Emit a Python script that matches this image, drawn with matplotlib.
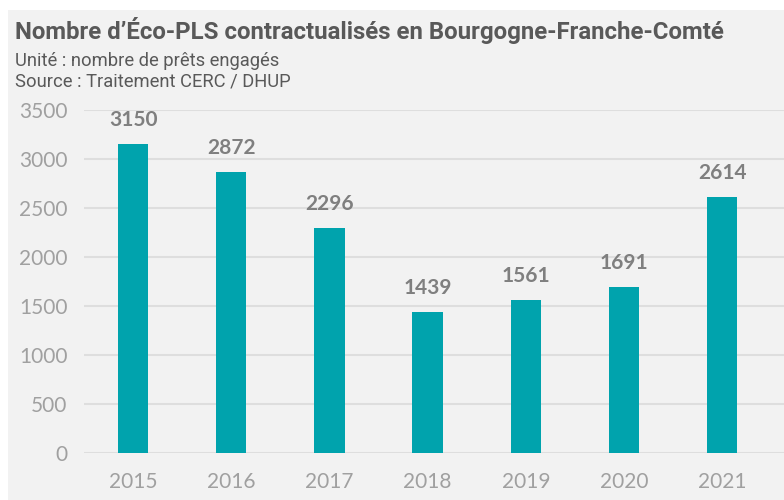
import matplotlib
matplotlib.use("Agg")
import matplotlib.pyplot as plt
from matplotlib.patches import Rectangle

# ── Data ──────────────────────────────────────────────────────────────────────
YEARS  = ["2015", "2016", "2017", "2018", "2019", "2020", "2021"]
VALUES = [3150, 2872, 2296, 1439, 1561, 1691, 2614]
YTICKS = [0, 500, 1000, 1500, 2000, 2500, 3000, 3500]

BG       = "#F2F2F2"
BAR      = "#00A3AD"
TITLE_C  = "#595959"
TICK_C   = "#A0A0A0"
LABEL_C  = "#7F7F7F"

fig = plt.figure(figsize=(7.84, 5.0), dpi=100, facecolor="white")
fig.patches.append(Rectangle((8 / 784, 0), 1, 1 - 10 / 500,
                             transform=fig.transFigure, facecolor=BG,
                             edgecolor="none", zorder=-10))

ax = fig.add_axes([84 / 784, 47 / 500, 1 - 84 / 784, 343 / 500])
ax.set_facecolor(BG)
ax.patch.set_alpha(0)

x = list(range(len(YEARS)))
ax.bar(x, VALUES, width=0.31, color=BAR, zorder=3)
ax.set_xlim(-0.5, 6.63)
ax.set_ylim(0, 3500)
ax.set_yticks(YTICKS)
ax.set_xticks(x, YEARS)
ax.grid(axis="y", color="#DEDEDE", lw=1.5, zorder=0)
for s in ax.spines.values():
    s.set_visible(False)
ax.tick_params(length=0, labelsize=15, labelcolor=TICK_C, pad=12)
ax.tick_params(axis="x", pad=14)
for lab in ax.get_xticklabels() + ax.get_yticklabels():
    lab.set_family("Lato")

for xi, v in zip(x, VALUES):
    ax.annotate(str(v), (xi, v), xytext=(0, 10), textcoords="offset points",
                ha="center", va="bottom", fontsize=15, fontweight="bold",
                color=LABEL_C, family="Lato")

fig.text(15 / 784, 1 - 31 / 500, "Nombre d’Éco-PLS contractualisés en Bourgogne-Franche-Comté",
         fontsize=17.3, fontweight="bold", color=TITLE_C, family="Roboto",
         va="center", ha="left")
fig.text(15 / 784, 1 - 61 / 500, "Unité : nombre de prêts engagés",
         fontsize=13.2, color=TITLE_C, family="Roboto", va="center", ha="left")
fig.text(15 / 784, 1 - 82 / 500, "Source : Traitement CERC / DHUP",
         fontsize=13.2, color=TITLE_C, family="Roboto", va="center", ha="left")

fig.savefig("out.png", dpi=100, facecolor="white")
